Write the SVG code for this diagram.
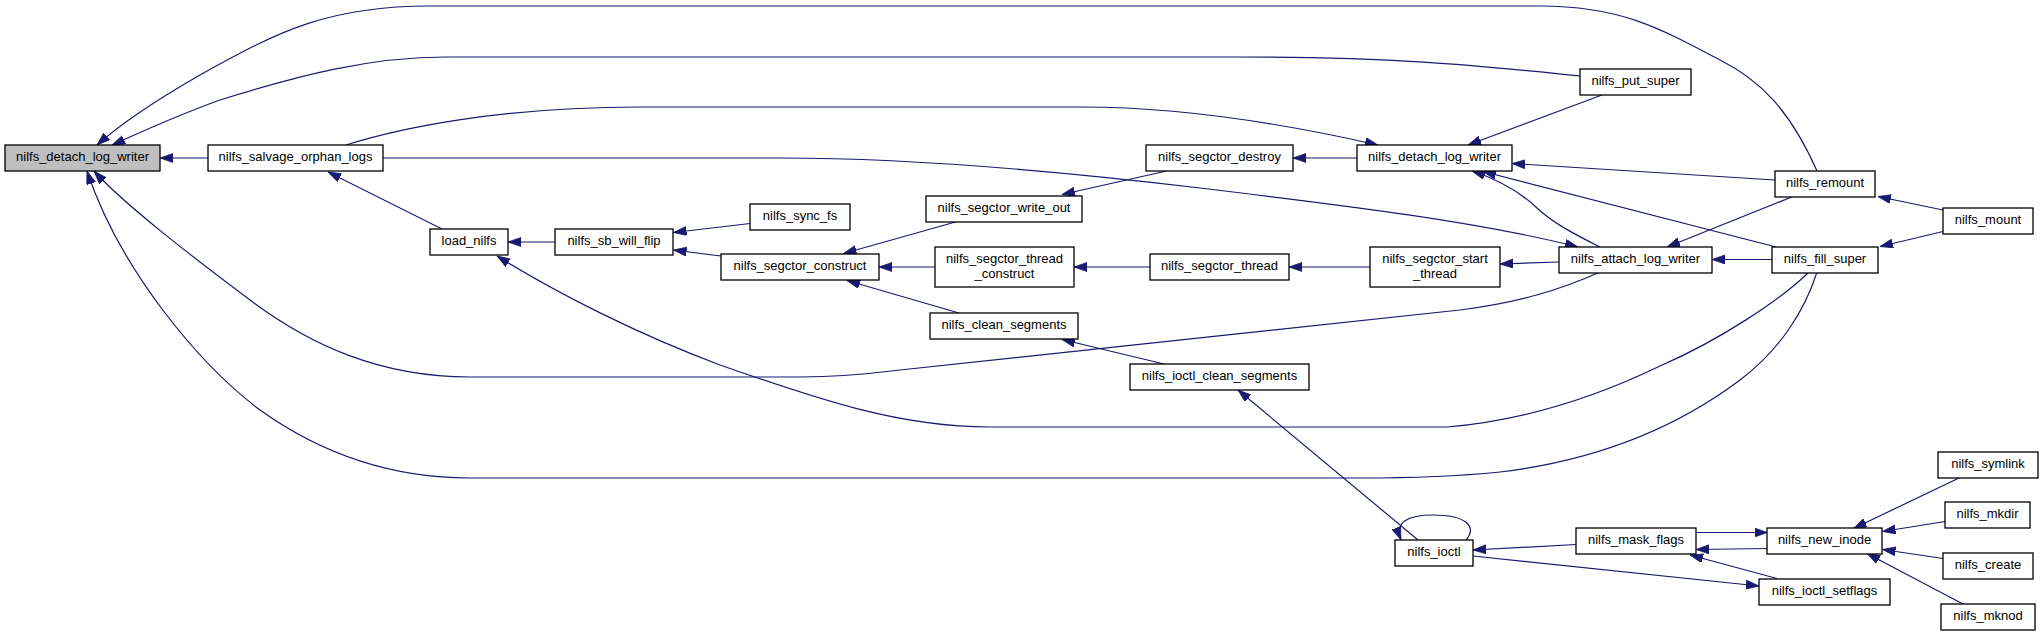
<svg xmlns="http://www.w3.org/2000/svg" width="2043" height="635" viewBox="0 0 2043 635">
<defs>
<marker id="ah" markerUnits="userSpaceOnUse" markerWidth="14" markerHeight="10" refX="13" refY="4.5" orient="auto">
<path d="M0,0 L13,4.5 L0,9 z" fill="#191970" stroke="#191970" stroke-width="0.8"/>
</marker>
<style>
.node rect{fill:#ffffff;stroke:#000000;stroke-width:1.3}
.node.root rect{fill:#bfbfbf}
.node text{font-family:"Liberation Sans",Helvetica,Arial,sans-serif;font-size:13px;text-anchor:middle;fill:#000000}
#edges path{fill:none;stroke:#191970;stroke-width:1.2;marker-end:url(#ah)}
</style>
</defs>
<rect width="2043" height="635" fill="#ffffff"/>
<g id="edges">
<path d="M1817,171 C1790,110 1760,80 1720,60 C1660,28 1620,6 1540,6 L430,6 C330,6 280,30 200,75 C160,98 125,120 97,145"/>
<path d="M1580,76 C1480,66 1400,57 1238,57 L446,57 C370,57 300,75 220,100 C170,118 135,135 112,145"/>
<path d="M346,145 C400,128 500,107 640,107 L1082,107 C1180,107 1290,125 1378,145"/>
<path d="M208,158 L160,158"/>
<path d="M383,158 L780,158 C900,158 1050,170 1200,188 C1350,206 1480,222 1578,247"/>
<path d="M442,229 L328,172"/>
<path d="M555,242 L508,242"/>
<path d="M750,223.5 L673.5,232.5"/>
<path d="M721,256 L673.5,250"/>
<path d="M959,221 L843.5,253.5"/>
<path d="M935,267 L879,267"/>
<path d="M959,313 L847,280.5"/>
<path d="M1166.5,171 L1062,194.5"/>
<path d="M1357,158 L1293,158"/>
<path d="M1150,267 L1074,267"/>
<path d="M1370,267 L1289,267"/>
<path d="M1559,262 L1500,264"/>
<path d="M1602,95 L1468,145"/>
<path d="M1775,180 L1512,163.5"/>
<path d="M1600,247 C1570,232 1552,222 1537,208 C1520,192 1500,180 1472,171"/>
<path d="M1776,247 L1483,171.5"/>
<path d="M1793,196.5 L1667,247"/>
<path d="M1772,259.5 L1712,259.5"/>
<path d="M1943,210 L1878,196.5"/>
<path d="M1943,231.5 L1880,246.5"/>
<path d="M1600,272 C1560,290 1520,302 1460,310 L900,370 C860,375 830,377 800,377 L470,377 C380,377 310,345 250,300 C190,255 125,205 94,171"/>
<path d="M1817,272 C1805,310 1780,350 1740,380 C1680,425 1600,460 1500,472 C1450,477 1410,478 1360,478 L470,478 C400,478 330,460 260,410 C200,365 120,270 87,171"/>
<path d="M1808,273 C1780,300 1720,340 1660,366 C1600,395 1530,420 1447,427 L990,427 C900,427 820,400 720,365 C640,335 560,295 497,256"/>
<path d="M1164,364 L1062,339.5"/>
<path d="M1418,540 L1238,390"/>
<path d="M1466,540 C1478,526 1465,515 1433,515 C1408,515 1394,522 1401,540"/>
<path d="M1576,544.5 L1473,550"/>
<path d="M1473,556 L1759,586"/>
<path d="M1696,532.5 L1767.5,532.5"/>
<path d="M1767.5,548.5 L1696,549.5"/>
<path d="M1777,578.5 L1690,555"/>
<path d="M1960,477.5 L1853.5,528.5"/>
<path d="M1945,521.5 L1882.5,531.5"/>
<path d="M1943,558.5 L1882.5,549.5"/>
<path d="M1963,604 L1867,553.5"/>
</g>
<g id="n0" class="node root"><rect x="5" y="145" width="155" height="26"/><text x="82.5" y="161">nilfs_detach_log_writer</text></g>
<g id="n1" class="node"><rect x="208" y="145" width="175" height="26"/><text x="295.5" y="161">nilfs_salvage_orphan_logs</text></g>
<g id="n2" class="node"><rect x="430" y="229" width="78" height="26"/><text x="469" y="245">load_nilfs</text></g>
<g id="n3" class="node"><rect x="555" y="229" width="118" height="26"/><text x="614" y="245">nilfs_sb_will_flip</text></g>
<g id="n4" class="node"><rect x="750" y="204" width="100" height="26"/><text x="800" y="220">nilfs_sync_fs</text></g>
<g id="n5" class="node"><rect x="721" y="254" width="158" height="26"/><text x="800" y="270">nilfs_segctor_construct</text></g>
<g id="n6" class="node"><rect x="926" y="196" width="156" height="26"/><text x="1004" y="212">nilfs_segctor_write_out</text></g>
<g id="n7" class="node"><rect x="935" y="247" width="139" height="40"/><text x="1004.5" y="262.5">nilfs_segctor_thread</text><text x="1004.5" y="277.5">_construct</text></g>
<g id="n8" class="node"><rect x="930" y="313" width="148" height="26"/><text x="1004" y="329">nilfs_clean_segments</text></g>
<g id="n9" class="node"><rect x="1146" y="145" width="147" height="26"/><text x="1219.5" y="161">nilfs_segctor_destroy</text></g>
<g id="n10" class="node"><rect x="1150" y="254" width="139" height="26"/><text x="1219.5" y="270">nilfs_segctor_thread</text></g>
<g id="n11" class="node"><rect x="1130" y="364" width="179" height="26"/><text x="1219.5" y="380">nilfs_ioctl_clean_segments</text></g>
<g id="n12" class="node"><rect x="1357" y="145" width="155" height="26"/><text x="1434.5" y="161">nilfs_detach_log_writer</text></g>
<g id="n13" class="node"><rect x="1370" y="247" width="130" height="40"/><text x="1435" y="262.5">nilfs_segctor_start</text><text x="1435" y="277.5">_thread</text></g>
<g id="n14" class="node"><rect x="1395" y="540" width="78" height="26"/><text x="1434" y="556">nilfs_ioctl</text></g>
<g id="n15" class="node"><rect x="1580" y="69" width="111" height="26"/><text x="1635.5" y="85">nilfs_put_super</text></g>
<g id="n16" class="node"><rect x="1559" y="247" width="153" height="26"/><text x="1635.5" y="263">nilfs_attach_log_writer</text></g>
<g id="n17" class="node"><rect x="1576" y="528" width="120" height="26"/><text x="1636" y="544">nilfs_mask_flags</text></g>
<g id="n18" class="node"><rect x="1775" y="171" width="100" height="26"/><text x="1825" y="187">nilfs_remount</text></g>
<g id="n19" class="node"><rect x="1772" y="247" width="106" height="26"/><text x="1825" y="263">nilfs_fill_super</text></g>
<g id="n20" class="node"><rect x="1767" y="528" width="115" height="26"/><text x="1824.5" y="544">nilfs_new_inode</text></g>
<g id="n21" class="node"><rect x="1759" y="579" width="131" height="26"/><text x="1824.5" y="595">nilfs_ioctl_setflags</text></g>
<g id="n22" class="node"><rect x="1943" y="208" width="90" height="26"/><text x="1988" y="224">nilfs_mount</text></g>
<g id="n23" class="node"><rect x="1938" y="452" width="100" height="26"/><text x="1988" y="468">nilfs_symlink</text></g>
<g id="n24" class="node"><rect x="1945" y="502" width="85" height="26"/><text x="1987.5" y="518">nilfs_mkdir</text></g>
<g id="n25" class="node"><rect x="1943" y="553" width="90" height="26"/><text x="1988" y="569">nilfs_create</text></g>
<g id="n26" class="node"><rect x="1941" y="604" width="94" height="26"/><text x="1988" y="620">nilfs_mknod</text></g>
</svg>
